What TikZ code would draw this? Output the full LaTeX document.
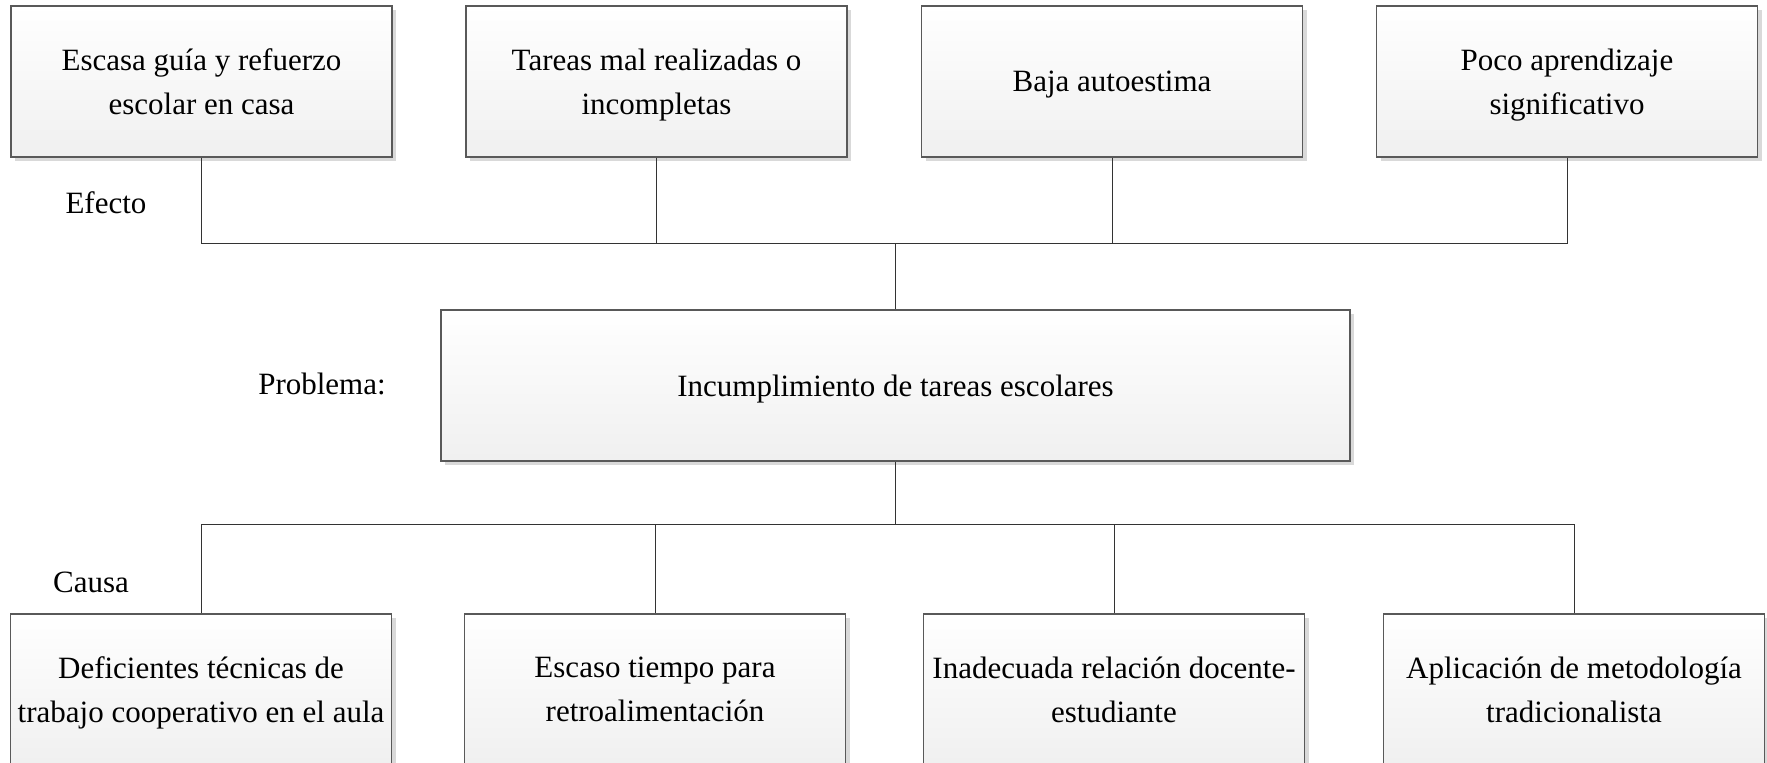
\documentclass[tikz,border=0pt]{standalone}
\usepackage{fontspec}
\setmainfont{Liberation Serif}
\usetikzlibrary{shadows}

\begin{document}
\begin{tikzpicture}[x=1pt,y=-1pt]
  \tikzset{caja/.style = {shape=rectangle,draw=black!65,line width=1.2pt,
      top color=white,bottom color=black!6,
      drop shadow={shadow xshift=4pt,shadow yshift=-4pt,fill=black!15,opacity=1},
      minimum width=381pt,minimum height=151pt,inner sep=2pt,align=center,
      text depth=0pt,font=\fontsize{31}{44}\selectfont}}
  \tikzset{linea/.style = {draw=black!80,line width=1pt}}
  \tikzset{rotulo/.style = {font=\fontsize{31}{44}\selectfont}}

  \useasboundingbox (0,0) rectangle (1767,763);

	\node[caja] (e1) at (201.5,81.5) {Escasa guía y refuerzo\\escolar en casa};
	\node[caja] (e2) at (656.5,81.5) {Tareas mal realizadas o\\incompletas};
	\node[caja] (e3) at (1112,81.5) {Baja autoestima};
	\node[caja] (e4) at (1567,81.5) {Poco aprendizaje\\significativo};

	\node[caja,minimum width=909pt] (problema) at (895.5,385.5) {Incumplimiento de tareas escolares};

	\node[caja] (c1) at (201,689.5) {Deficientes técnicas de\\trabajo cooperativo en el aula};
	\node[caja] (c2) at (655,689.5) {Escaso tiempo para\\retroalimentación};
	\node[caja] (c3) at (1114,689.5) {Inadecuada relación docente-\\estudiante};
	\node[caja] (c4) at (1574,689.5) {Aplicación de metodología\\tradicionalista};

	\node[rotulo] (efecto) at (106,203) {Efecto};
	\node[rotulo] (problemalbl) at (322,384) {Problema:};
	\node[rotulo] (causa) at (91,582) {Causa};

	\coordinate (arriba) at (894,243);
	\coordinate (abajo) at (894,524);

	\draw[linea] (problema.north) -- (problema.north |- arriba);
       \foreach \e in {e1,e2,e3,e4}
    \draw[linea] (\e.south) |- (problema.north |- arriba);

	\draw[linea] (problema.south) -- (problema.south |- abajo);
       \foreach \c in {c1,c2,c3,c4}
    \draw[linea] (problema.south |- abajo) -| (\c.north);
\end{tikzpicture}
\end{document}
